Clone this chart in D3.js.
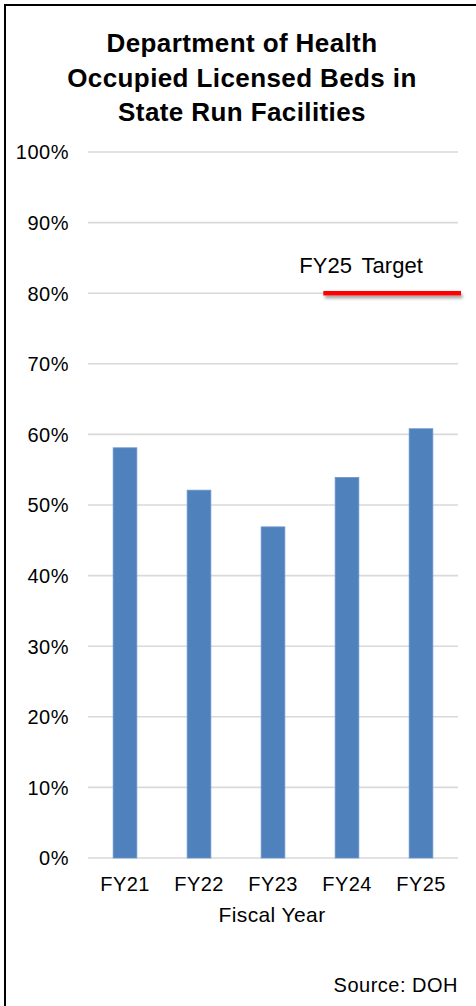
<!DOCTYPE html>
<html>
<head>
<meta charset="utf-8">
<script src="https://cdn.jsdelivr.net/npm/d3@7"></script>
<style>
  html, body { margin: 0; padding: 0; background: #fff; }
  svg { display: block; }
  text { font-family: "Liberation Sans", Arial, sans-serif; fill: #000; }
</style>
</head>
<body>
<svg id="chart" width="476" height="1006"></svg>
<script>
const categories = ["FY21", "FY22", "FY23", "FY24", "FY25"];
const occupancy = [0.581, 0.521, 0.469, 0.539, 0.608];
const targetValue = 0.80;
const targetLabel = "FY25 Target";
const yTicks = [0, 0.1, 0.2, 0.3, 0.4, 0.5, 0.6, 0.7, 0.8, 0.9, 1.0];
const titleLines = ["Department of Health", "Occupied Licensed Beds in", "State Run Facilities"];
const xAxisTitle = "Fiscal Year";
const sourceText = "Source: DOH";

const svg = d3.select("#chart");
const W = 476, H = 1006;
const plot = { left: 88, right: 458, top: 152, bottom: 858 };

// outer frame (top and left visible)
svg.append("rect")
  .attr("x", 5).attr("y", 5)
  .attr("width", W + 20).attr("height", H + 20)
  .attr("fill", "none").attr("stroke", "#000").attr("stroke-width", 2);

const defs = svg.append("defs");
const f = defs.append("filter").attr("id", "shadow")
  .attr("filterUnits", "userSpaceOnUse")
  .attr("x", 0).attr("y", 0).attr("width", W).attr("height", H);
f.append("feDropShadow").attr("dx", 1.5).attr("dy", 3).attr("stdDeviation", 1.6)
  .attr("flood-color", "#000").attr("flood-opacity", 0.35);

const x = d3.scaleBand().domain(categories)
  .range([plot.left, plot.right]).paddingInner(0.68).paddingOuter(0.34);
const y = d3.scaleLinear().domain([0, 1]).range([plot.bottom, plot.top]);

// title
svg.append("g").selectAll("text").data(titleLines).join("text")
  .attr("x", 242).attr("y", (d, i) => 52 + i * 34.5)
  .attr("text-anchor", "middle")
  .style("font-size", "26px").style("font-weight", "bold")
  .style("letter-spacing", "0.4px")
  .text(d => d);

// gridlines
svg.append("g").selectAll("line").data(yTicks).join("line")
  .attr("x1", plot.left).attr("x2", plot.right)
  .attr("y1", d => y(d)).attr("y2", d => y(d))
  .attr("stroke", "#d9d9d9").attr("stroke-width", 1.6);

// y axis labels
const yAxis = d3.axisLeft(y).tickValues(yTicks).tickFormat(d3.format(".0%")).tickSize(0).tickPadding(0);
const gy = svg.append("g").attr("transform", `translate(69,0)`).call(yAxis);
gy.select(".domain").remove();
gy.selectAll("text")
  .style("font-family", "'Liberation Sans', Arial, sans-serif")
  .style("font-size", "20px").attr("fill", "#000").attr("dy", "0.34em")
  .style("letter-spacing", "0.5px");

// bars
svg.append("g").selectAll("rect").data(categories).join("rect")
  .attr("x", d => x(d))
  .attr("y", (d, i) => y(occupancy[i]))
  .attr("width", x.bandwidth())
  .attr("height", (d, i) => y(0) - y(occupancy[i]))
  .attr("fill", "#4f81bd")
  .attr("stroke", "#6a95cc").attr("stroke-width", 0.8);

// x axis labels
const xAxis = d3.axisBottom(x).tickSize(0).tickPadding(0);
const gx = svg.append("g").attr("transform", `translate(0,${plot.bottom})`).call(xAxis);
gx.select(".domain").remove();
gx.selectAll("text")
  .style("font-family", "'Liberation Sans', Arial, sans-serif")
  .style("font-size", "20px").attr("fill", "#000")
  .attr("dy", null).attr("y", 33)
  .style("letter-spacing", "0.4px");

// axis title
svg.append("text")
  .attr("x", (plot.left + plot.right) / 2 - 1).attr("y", 922)
  .attr("text-anchor", "middle").style("font-size", "21px")
  .style("letter-spacing", "0.4px")
  .text(xAxisTitle);

// source
svg.append("text")
  .attr("x", plot.right).attr("y", 992)
  .attr("text-anchor", "end").style("font-size", "20px")
  .style("letter-spacing", "0.5px")
  .text(sourceText);

// target line (drawn as a thin rect so the shadow filter renders)
const tStart = x("FY24") - x.bandwidth() / 2;
const tEnd = plot.right + 3;
const tThick = 4.5;
svg.append("rect")
  .attr("x", tStart).attr("width", tEnd - tStart)
  .attr("y", y(targetValue) - tThick / 2).attr("height", tThick)
  .attr("fill", "#ff0000")
  .attr("filter", "url(#shadow)");

svg.append("text")
  .attr("x", tStart - 24).attr("y", y(targetValue) - 20)
  .style("font-size", "22px").style("word-spacing", "4px")
  .text(targetLabel);
</script>
</body>
</html>
